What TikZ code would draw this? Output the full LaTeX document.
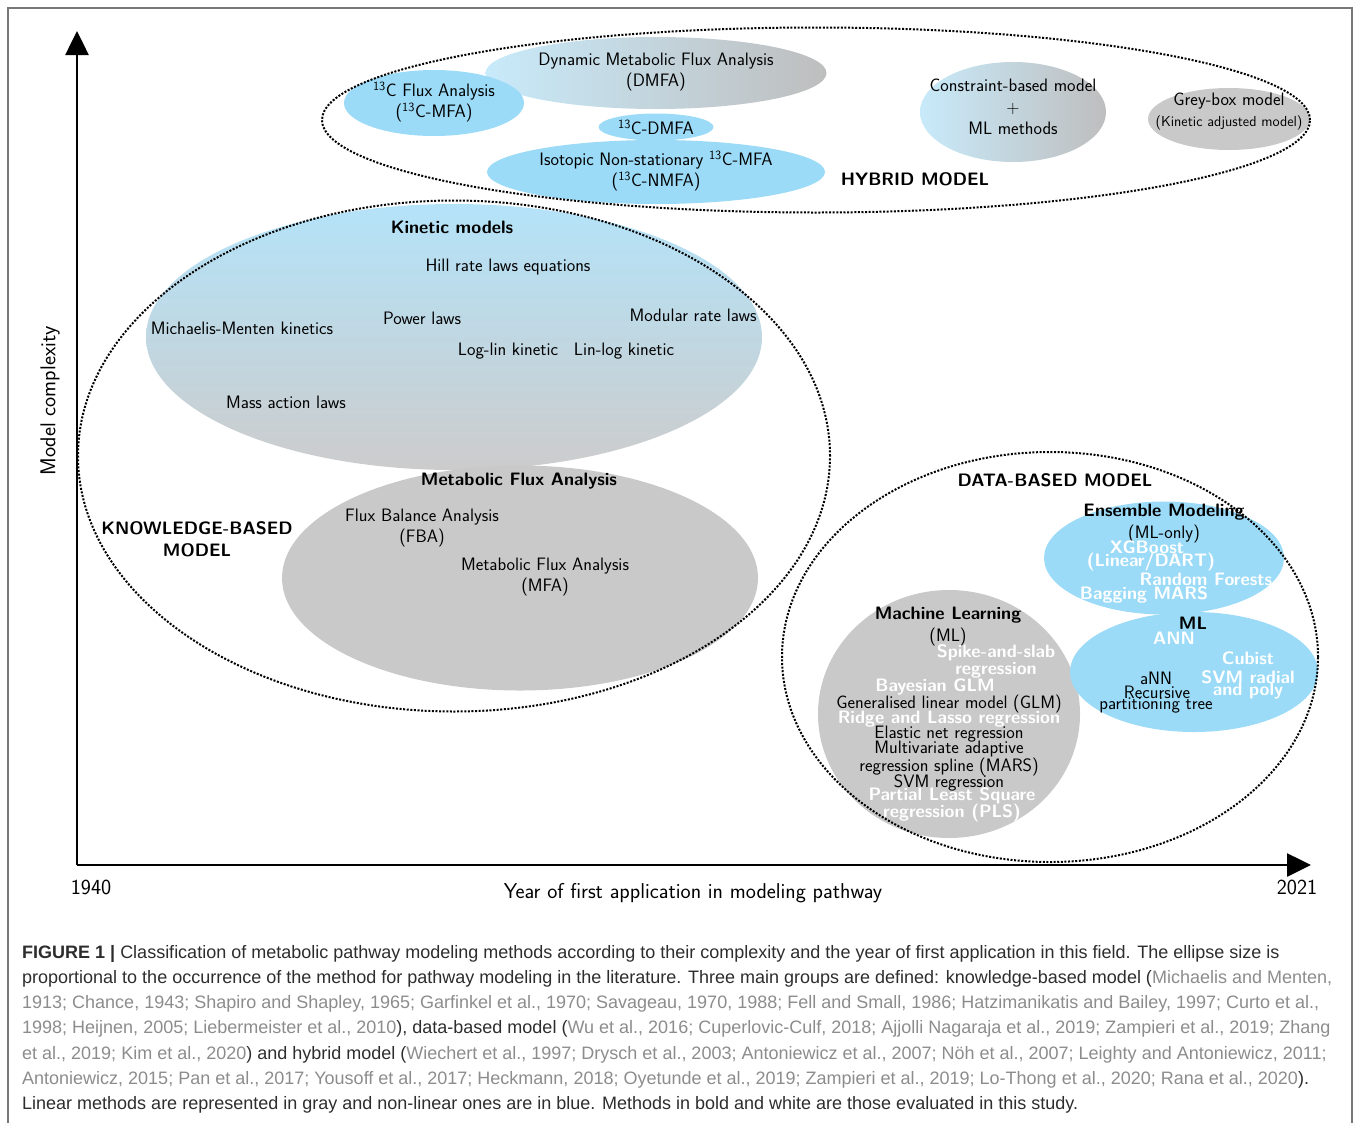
\documentclass[tikz,border=0pt]{standalone}
\usepackage{fontspec}
\usetikzlibrary{shapes.geometric,arrows.meta}
\newfontfamily\capfont{Liberation Sans}
\definecolor{EllBlue}{RGB}{155,219,248}
\definecolor{EllGrey}{RGB}{201,201,201}
\definecolor{KinTop}{RGB}{180,227,249}
\definecolor{KinBot}{RGB}{204,204,204}
\definecolor{HybLeft}{RGB}{200,234,250}
\definecolor{HybRight}{RGB}{190,190,190}
\definecolor{FrameGrey}{RGB}{120,120,120}
\definecolor{CapText}{RGB}{45,45,45}
\definecolor{CapRef}{RGB}{140,140,140}
\newcommand{\Ct}{\textsuperscript{13}C}
\newcommand{\refs}[1]{{\color{CapRef}#1}}

\begin{document}
\begin{tikzpicture}[x=1pt, y=-1pt,
    grp/.style={ellipse, draw, line width=2pt, dash pattern=on 2pt off 1.6pt, inner sep=0pt},
    blueell/.style={ellipse, fill=EllBlue, inner sep=0pt},
    greyell/.style={ellipse, fill=EllGrey, inner sep=0pt},
    lbl/.style={font=\sffamily\fontsize{18}{21.5}\selectfont, align=center, inner sep=0pt},
    small/.style={font=\sffamily\fontsize{14.5}{16}\selectfont, inner sep=0pt},
    head/.style={font=\sffamily\bfseries\fontsize{18}{22}\selectfont, align=center, inner sep=0pt},
    wlbl/.style={head, text=white},
    axlbl/.style={font=\sffamily\fontsize{21.5}{24}\selectfont, inner sep=0pt},
    axis/.style={line width=2.6pt, -{Triangle[width=23pt,length=24pt]}},
    captxt/.style={font=\capfont\fontsize{18}{25.2}\selectfont, text=CapText, align=left, inner sep=0pt}
  ]
  \useasboundingbox (0,0) rectangle (1357,1122);
  \draw[FrameGrey, line width=1.5pt] (8,1140) -- (8,8) -- (1352,8) -- (1352,1140);

  % Hybrid model
  \node[ellipse, inner sep=0pt, left color=HybLeft, right color=HybRight, minimum width=341pt, minimum height=72pt] (dmfa) at (656,73) {};
  \node[blueell, minimum width=180pt, minimum height=66pt] (cmfa) at (434,103) {};
  \node[blueell, minimum width=115pt, minimum height=27pt] (cdmfa) at (656,127) {};
  \node[blueell, minimum width=338pt, minimum height=64pt] (nmfa) at (656,172) {};
  \node[ellipse, inner sep=0pt, left color=HybLeft, right color=HybRight, minimum width=186pt, minimum height=100pt] (cbm) at (1013,112) {};
  \node[greyell, minimum width=162pt, minimum height=62pt] (grey) at (1229,119) {};

  % Knowledge-based model
  \node[ellipse, inner sep=0pt, top color=KinTop, bottom color=KinBot, minimum width=616pt, minimum height=266pt] (kin) at (454,337) {};
  \node[greyell, minimum width=476pt, minimum height=225pt] (mfa) at (520,578) {};

  % Data-based model
  \node[greyell, minimum width=262pt, minimum height=248pt] (mlg) at (949,714) {};
  \node[blueell, minimum width=240pt, minimum height=113pt] (ens) at (1164,558) {};
  \node[blueell, minimum width=248pt, minimum height=120pt] (mlb) at (1194,672) {};

  % Groups
  \node[grp, minimum width=988pt, minimum height=185pt] (hybrid) at (816,120) {};
  \node[grp, minimum width=752pt, minimum height=511pt] (knowledge) at (454,456) {};
  \node[grp, minimum width=536pt, minimum height=410pt] (data) at (1050,657) {};

  % Axes
  \coordinate (origin) at (77,865);
  \coordinate (ytop) at (77,31);
  \coordinate (xend) at (1311,865);
  \draw[axis] (origin) -- (ytop);
  \draw[axis] (origin) -- (xend);
  \node[axlbl] (y0) at (91,887) {1940};
  \node[axlbl] (y1) at (1297,887) {2021};
  \node[axlbl] (xlab) at (693,893) {Year of first application in modeling pathway};
  \node[axlbl, rotate=90] (ylab) at (50,401) {Model complexity};

  % Hybrid texts
  \node[lbl] (tdmfa) at (656,72) {Dynamic Metabolic Flux Analysis\\(DMFA)};
  \node[lbl] (tcmfa) at (434,102) {\Ct{} Flux Analysis\\(\Ct-MFA)};
  \node[lbl] (tcdmfa) at (656,127) {\Ct-DMFA};
  \node[lbl] (tnmfa) at (656,171) {Isotopic Non-stationary \Ct-MFA\\(\Ct-NMFA)};
  \node[lbl] (tcbm) at (1013,107) {Constraint-based model\\+\\ML methods};
  \node[lbl] (tgrey) at (1229,101) {Grey-box model};
  \node[small] (tkin2) at (1229,123) {(Kinetic adjusted model)};
  \node[head] (thyb) at (915,179) {HYBRID MODEL};

  % Knowledge texts
  \node[head] (tkin) at (452,227) {Kinetic models};
  \node[lbl] (thill) at (508,267) {Hill rate laws equations};
  \node[lbl] (tmm) at (242,328) {Michaelis-Menten kinetics};
  \node[lbl] (tpow) at (422,318) {Power laws};
  \node[lbl] (tmod) at (693,315) {Modular rate laws};
  \node[lbl] (tloglin) at (508,351) {Log-lin kinetic};
  \node[lbl] (tlinlog) at (624,351) {Lin-log kinetic};
  \node[lbl] (tmass) at (286,402) {Mass action laws};
  \node[head] (tmfa) at (519,481) {Metabolic Flux Analysis};
  \node[lbl] (tfba) at (422,528) {Flux Balance Analysis\\(FBA)};
  \node[lbl] (tmfa2) at (545,577) {Metabolic Flux Analysis\\(MFA)};
  \node[head] (tknow) at (197,539) {KNOWLEDGE-BASED\\MODEL};

  % Data texts
  \node[head] (tdata) at (1055,480) {DATA-BASED MODEL};
  \node[head] (tens) at (1164,512) {Ensemble Modeling};
  \node[lbl] (tens2) at (1164,534) {(ML-only)};
  \node[wlbl] (txgb) at (1147,547) {XGBoost};
  \node[wlbl] (tdart) at (1151,562) {(Linear/DART)};
  \node[wlbl] (trf) at (1206,579) {Random Forests};
  \node[wlbl] (tbag) at (1144,595) {Bagging MARS};
  \node[head] (tmlb) at (1193,623) {ML};
  \node[wlbl] (tann) at (1174,638) {ANN};
  \node[wlbl] (tcub) at (1248,658) {Cubist};
  \node[wlbl] (tsvm) at (1248,677) {SVM radial};
  \node[wlbl] (tpoly) at (1248,691) {and poly};
  \node[lbl] (tann2) at (1156,678) {aNN};
  \node[lbl] (trec) at (1157,692) {Recursive};
  \node[lbl] (tpart) at (1156,705) {partitioning tree};
  \node[head] (tmlg) at (948,615) {Machine Learning};
  \node[lbl] (tmlg2) at (948,637) {(ML)};
  \node[wlbl] (tspike) at (996,653) {Spike-and-slab};
  \node[wlbl] (tspike2) at (996,670) {regression};
  \node[wlbl] (tbglm) at (935,687) {Bayesian GLM};
  \node[lbl] (tglm) at (949,704) {Generalised linear model (GLM)};
  \node[wlbl] (tridge) at (949,719) {Ridge and Lasso regression};
  \node[lbl] (telast) at (949,734) {Elastic net regression};
  \node[lbl] (tmars) at (949,749) {Multivariate adaptive};
  \node[lbl] (tmars2) at (949,767) {regression spline (MARS)};
  \node[lbl] (tsvmr) at (949,783) {SVM regression};
  \node[wlbl] (tpls) at (952,796) {Partial Least Square};
  \node[wlbl] (tpls2) at (952,813) {regression (PLS)};

  % Caption
  \node[captxt, anchor=north west] (caption) at (22,945) {%
    \textbf{FIGURE 1 |} Classification of metabolic pathway modeling methods according to their complexity and the year of first application in this field. The ellipse size is\\
    proportional to the occurrence of the method for pathway modeling in the literature. Three main groups are defined: knowledge-based model (\refs{Michaelis and Menten,}\\
    \refs{1913; Chance, 1943; Shapiro and Shapley, 1965; Garfinkel et al., 1970; Savageau, 1970, 1988; Fell and Small, 1986; Hatzimanikatis and Bailey, 1997; Curto et al.,}\\
    \refs{1998; Heijnen, 2005; Liebermeister et al., 2010}), data-based model (\refs{Wu et al., 2016; Cuperlovic-Culf, 2018; Ajjolli Nagaraja et al., 2019; Zampieri et al., 2019; Zhang}\\
    \refs{et al., 2019; Kim et al., 2020}) and hybrid model (\refs{Wiechert et al., 1997; Drysch et al., 2003; Antoniewicz et al., 2007; Nöh et al., 2007; Leighty and Antoniewicz, 2011;}\\
    \refs{Antoniewicz, 2015; Pan et al., 2017; Yousoff et al., 2017; Heckmann, 2018; Oyetunde et al., 2019; Zampieri et al., 2019; Lo-Thong et al., 2020; Rana et al., 2020}).\\
    Linear methods are represented in gray and non-linear ones are in blue. Methods in bold and white are those evaluated in this study.};
\end{tikzpicture}
\end{document}
